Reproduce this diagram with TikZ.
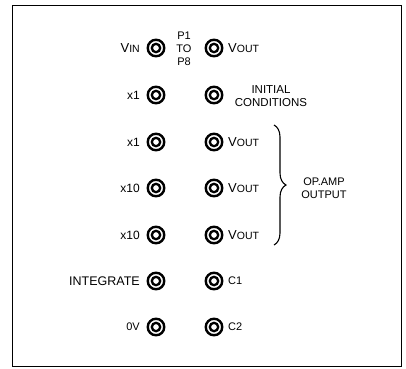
\documentclass[tikz,border=0pt]{standalone}
\usepackage{fontspec}
\setmainfont{Liberation Sans}
\usetikzlibrary{decorations.pathreplacing}
\tikzset{
  jack/.style={circle, draw, line width=2.4pt, minimum size=16.5pt, inner sep=0pt,
    path picture={\draw[line width=2.3pt] (path picture bounding box.center) circle (4.2pt);}},
  llab/.style={anchor=east, inner sep=0pt},
  rlab/.style={anchor=west, inner sep=0pt},
  big/.style={font=\fontsize{12}{13}\selectfont},
  small/.style={font=\fontsize{11}{13}\selectfont},
}
\newcommand{\smcap}[2]{{\fontsize{13}{13}\selectfont #1}{\fontsize{10.5}{13}\selectfont #2}}
\begin{document}
\begin{tikzpicture}[x=1pt,y=-1pt]
\useasboundingbox (0,0) rectangle (406,368);
\node[draw, line width=1.4pt, minimum width=389pt, minimum height=361pt, inner sep=0pt, anchor=north west] (frame) at (12,5) {};
% jacks
\foreach \i/\y in {1/48,2/95,3/142,4/188,5/235,6/281,7/327}{
  \node[jack] (L\i) at (156,\y) {};
  \node[jack] (R\i) at (214,\y) {};
}
% left labels
\node[llab] (t1) at (140,48) {\smcap{V}{IN}};
\node[llab, big] (t2) at (140,95) {x1};
\node[llab, big] (t3) at (140,142) {x1};
\node[llab, big] (t4) at (140,188) {x10};
\node[llab, big] (t5) at (140,235) {x10};
\node[llab, font=\fontsize{12.5}{13}\selectfont] (t6) at (140,281) {INTEGRATE};
\node[llab, small] (t7) at (140,327) {0V};
% right labels
\node[rlab] (r1) at (228,48) {\smcap{V}{OUT}};
\node[rlab] (r3) at (228,142) {\smcap{V}{OUT}};
\node[rlab] (r4) at (228,188) {\smcap{V}{OUT}};
\node[rlab] (r5) at (228,235) {\smcap{V}{OUT}};
\node[rlab, small] (r6) at (228,281) {C1};
\node[rlab, small] (r7) at (228,327) {C2};
\node[font=\fontsize{11.5}{13}\selectfont, align=center, inner sep=0pt] (ic) at (271,96) {INITIAL\\CONDITIONS};
\node[font=\fontsize{11}{13}\selectfont, align=center, inner sep=0pt] (pp) at (184,49) {P1\\TO\\P8};
\node[font=\fontsize{11}{13}\selectfont, align=center, inner sep=0pt] (op) at (324,188) {OP.AMP\\OUTPUT};
% brace
\coordinate (bt) at (274,125);
\coordinate (bb) at (274,245);
\draw[line width=1.1pt, decorate, decoration={brace, amplitude=12pt}] (bt) -- (bb);
\end{tikzpicture}
\end{document}
